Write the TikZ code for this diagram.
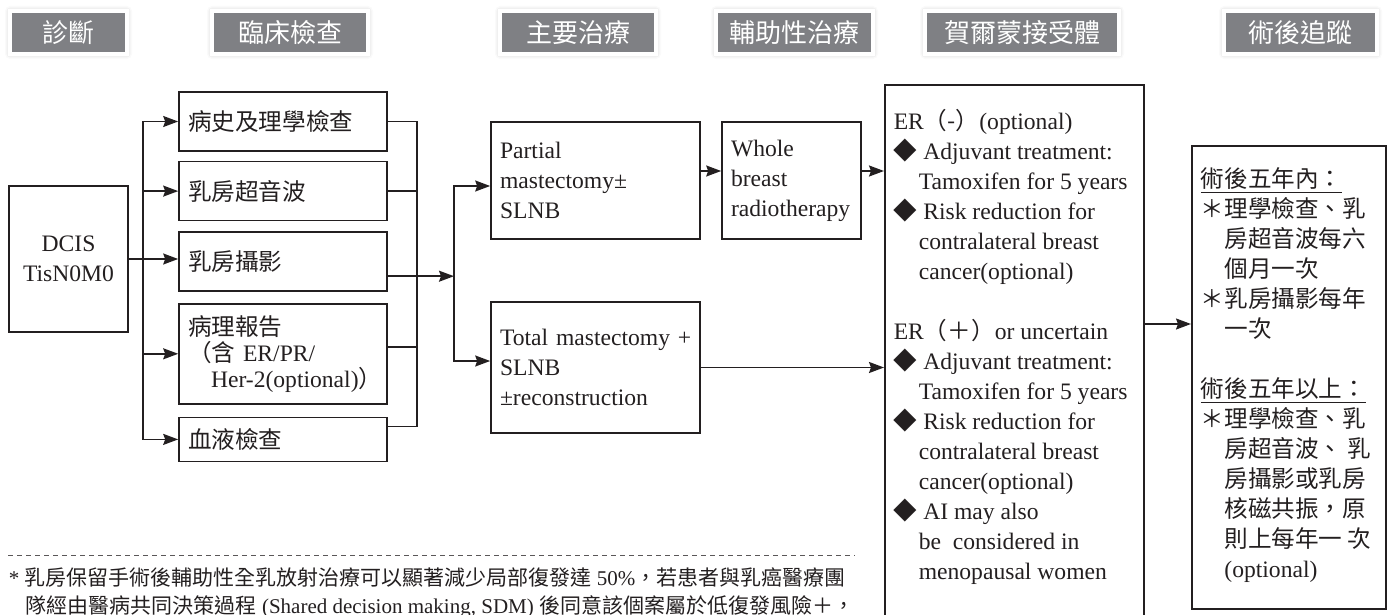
\documentclass[tikz,border=0pt]{standalone}
\usepackage{fontspec}
\setmainfont{Liberation Serif}
\newfontfamily\cjk{Noto Sans CJK TC}
\usetikzlibrary{arrows.meta,positioning,shadows.blur}
\definecolor{ink}{HTML}{231F20}
\definecolor{headgray}{HTML}{7F8084}

\begin{document}
\begin{tikzpicture}[x=0.5pt,y=-0.5pt,>={Stealth[length=7.5pt,width=5.5pt,inset=1pt]},
                thick,color=ink,
                main node/.style={rectangle,draw,inner xsep=4.5pt,align=left,font=\fontsize{11.8}{15}\selectfont},
                head node/.style={rectangle,fill=headgray,draw=white,line width=2pt,text=white,
                                  minimum height=21.5pt,inner sep=0pt,font=\cjk\fontsize{13}{15}\selectfont,
                                  blur shadow={shadow xshift=0pt,shadow yshift=0pt,shadow blur radius=2.5pt,shadow opacity=30}}]
                \useasboundingbox (0,0) rectangle (1387,615);
                \clip (0,0) rectangle (1387,615);

                \node[head node,minimum width=58.5pt] (h0) at (68.5,32.5) {診斷};
                \node[head node,minimum width=78pt] (h1) at (290,32.5) {臨床檢查};
                \node[head node,minimum width=78pt] (h2) at (578,32.5) {主要治療};
                \node[head node,minimum width=78.5pt] (h3) at (794.5,32.5) {輔助性治療};
                \node[head node,minimum width=97pt] (h4) at (1022,32.5) {賀爾蒙接受體};
                \node[head node,minimum width=76.5pt] (h5) at (1300.5,32.5) {術後追蹤};

                \node[main node,minimum width=59.5pt,minimum height=73pt,align=center] (0) at (68.5,259) {DCIS\\TisN0M0};
                \node[main node,text width=95pt,minimum height=29.5pt] (1) at (283,121.5) {\cjk 病史及理學檢查};
                \node[main node,text width=95pt,minimum height=29.5pt] (2) [below=4.5pt of 1] {\cjk 乳房超音波};
                \node[main node,text width=95pt,minimum height=29.5pt] (3) [below=5pt of 2] {\cjk 乳房攝影};
                \node[main node,text width=95pt,minimum height=50pt,font=\fontsize{11.8}{13}\selectfont] (4) [below=5.5pt of 3]
                    {{\cjk 病理報告}\\{\cjk （含} ER/PR/\\\mbox{\hspace*{11.5pt}Her-2(optional){\cjk ）}}};
                \node[main node,text width=95pt,minimum height=22pt] (5) [below=6pt of 4] {\cjk 血液檢查};

                \node[main node,text width=95.5pt,minimum height=58.5pt] (6) at (595.5,180.5) {Partial\\mastectomy±\\SLNB};
                \node[main node,text width=60.5pt,minimum height=58.5pt] (7) at (791.5,180.5) {Whole\\breast\\radiotherapy};
                \node[main node,text width=95.5pt,minimum height=65.5pt] (8) at (595.5,367.5) {\mbox{Total mastectomy +}\\SLNB\\±reconstruction};

                \node[main node,anchor=north west,inner ysep=12pt] (9) at (884,84) {\parbox[t][290pt][t]{120.5pt}{\raggedright
                    ER{\cjk （-）}(optional)\\
                    {\cjk ◆} Adjuvant treatment:\\
                    \hspace*{12.5pt}Tamoxifen for 5 years\\
                    {\cjk ◆} Risk reduction for\\
                    \hspace*{12.5pt}contralateral breast\\
                    \hspace*{12.5pt}cancer(optional)\\[15pt]
                    ER{\cjk （＋）}or uncertain\\
                    {\cjk ◆} Adjuvant treatment:\\
                    \hspace*{12.5pt}Tamoxifen for 5 years\\
                    {\cjk ◆} Risk reduction for\\
                    \hspace*{12.5pt}contralateral breast\\
                    \hspace*{12.5pt}cancer(optional)\\
                    {\cjk ◆} AI may also\\
                    \hspace*{12.5pt}be\ \ considered in\\
                    \hspace*{12.5pt}menopausal women}};

                \node[main node,anchor=north west,inner ysep=11pt] (10) at (1191,145) {\parbox[t][209.5pt][t]{88pt}{\raggedright\cjk
                    \underline{術後五年內：}\\
                    ＊理學檢查、乳\\
                    \hspace*{11.8pt}房超音波每六\\
                    \hspace*{11.8pt}個月一次\\
                    ＊乳房攝影每年\\
                    \hspace*{11.8pt}一次\\[15pt]
                    \underline{術後五年以上：}\\
                    ＊理學檢查、乳\\
                    \hspace*{11.8pt}房超音波、 乳\\
                    \hspace*{11.8pt}房攝影或乳房\\
                    \hspace*{11.8pt}核磁共振，原\\
                    \hspace*{11.8pt}則上每年一 次\\
                    \hspace*{11.8pt}{\rmfamily (optional)}}};

                \node[anchor=north west,inner sep=0pt,align=left,font=\fontsize{10.5}{14}\selectfont] (11) at (8,567)
                    {*\ {\cjk 乳房保留手術後輔助性全乳放射治療可以顯著減少局部復發達} 50\%{\cjk ，若患者與乳癌醫療團}\\
                    \hspace*{8.5pt}{\cjk 隊經由醫病共同決策過程} (Shared decision making, SDM) {\cjk 後同意該個案屬於低復發風險＋，}};

                \coordinate (t) at (143,0);
                \coordinate (c) at (417,0);
                \coordinate (s) at (454,0);
                \coordinate (f) at (0,324);
                \coordinate (d1) at (8,555);
                \coordinate (d2) at (855,555);

                \draw[->] (0.east -| t) |- (1.west);
                \draw[->] (0.east -| t) |- (2.west);
                \draw[->] (0.east -| t) |- (4.west);
                \draw[->] (0.east -| t) |- (5.west);
                \draw (1.east) -- (1.east -| c) |- ([yshift=6.5pt]5.east);
                \draw (2.east) -- (2.east -| c);
                \draw ([yshift=3.5pt]4.east) -- ([yshift=3.5pt]4.east -| c);
                \draw[->] ([yshift=-7.25pt]3.east -| s) |- ([yshift=-2.75pt]6.west);
                \draw[->] ([yshift=-7.25pt]3.east -| s) |- ([yshift=3.25pt]8.west);

                \path[->]
                (0.east) edge (0.east -| 3.west)
                ([yshift=-7.25pt]3.east) edge ([yshift=-7.25pt]3.east -| s)
                ([yshift=4.75pt]6.east) edge ([yshift=4.75pt]6.east -| 7.west)
                ([yshift=4.75pt]7.east) edge ([yshift=4.75pt]7.east -| 9.west)
                (8.east) edge (8.east -| 9.west)
                (9.east |- f) edge (10.west |- f)
                ;

                \draw[thin,draw=ink!75,dash pattern=on 2.5pt off 2pt] (d1) -- (d2);
\end{tikzpicture}
\end{document}
